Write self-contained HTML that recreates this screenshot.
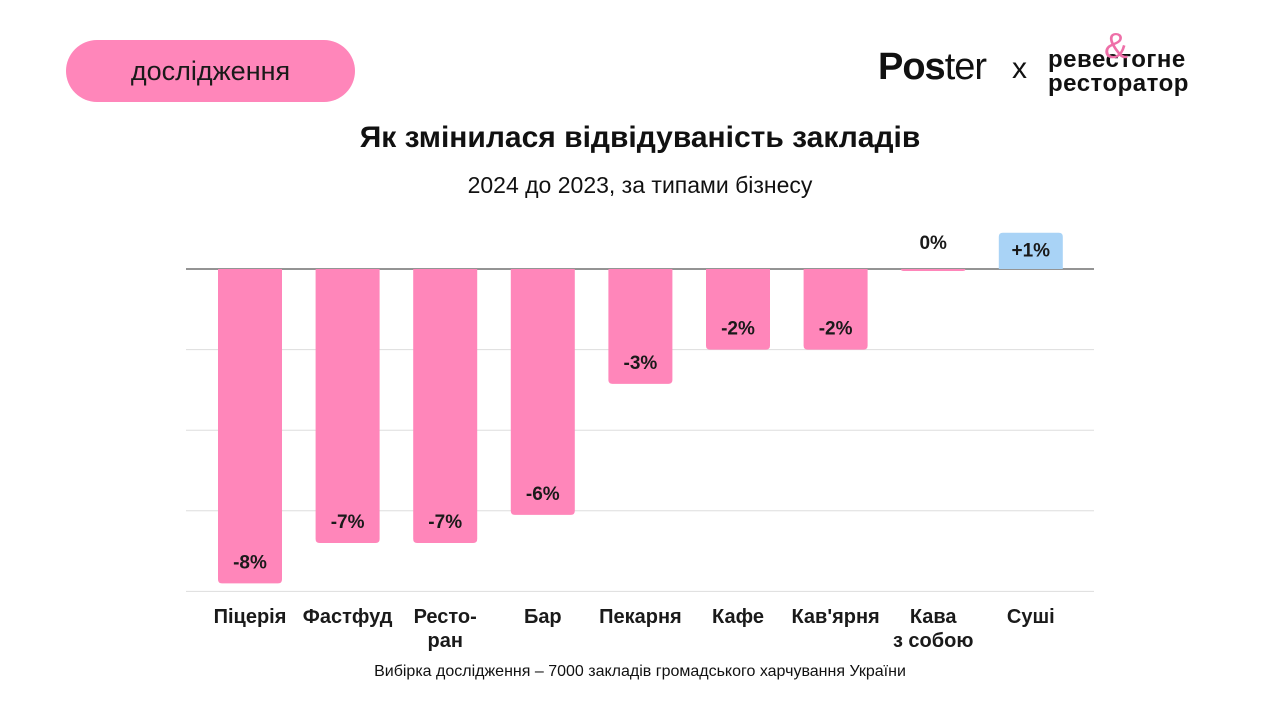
<!DOCTYPE html>
<html><head><meta charset="utf-8"><style>
body{margin:0;width:1280px;height:720px;background:#fff;font-family:"Liberation Sans","Noto Sans CJK SC",sans-serif;overflow:hidden;position:relative;color:#111}
.pill{position:absolute;left:66px;top:40px;width:289px;height:62px;border-radius:31px;background:#ff86ba;font-size:27px;line-height:62px;text-align:center;color:#1a1a1a}
.t{position:absolute;left:0;width:1280px;text-align:center}
</style></head><body>
<div class="pill">дослідження</div>
<div style="position:absolute;left:878px;top:46px;font-size:38px;font-weight:bold;letter-spacing:-1px">Pos<span style="font-weight:normal">ter</span></div>
<div style="position:absolute;left:1012px;top:52px;font-size:30px">x</div>
<div style="position:absolute;left:1048px;top:48px;font-size:24px;font-weight:bold;line-height:24px;letter-spacing:0.5px">ревестогне<br>ресторатор<span style="position:absolute;left:56px;top:-14px;color:#ee6fa8;font-size:36px;font-weight:normal">&amp;</span></div>
<div class="t" style="top:121px;font-size:30px;font-weight:bold">Як змінилася відвідуваність закладів</div>
<div class="t" style="top:172px;font-size:23px">2024 до 2023, за типами бізнесу</div>
<svg id="c" width="1280" height="720" style="position:absolute;left:0;top:0"></svg>
<div class="t" style="top:663px;font-size:16px">Вибірка дослідження – 7000 закладів громадського харчування України</div>
<script>
const categories=["Піцерія","Фастфуд","Ресто-|ран","Бар","Пекарня","Кафе","Кав'ярня","Кава|з собою","Суші"];
const values=[-7.8,-6.8,-6.8,-6.1,-2.85,-2.0,-2.0,0,0.9];
const valueLabels=["-8%","-7%","-7%","-6%","-3%","-2%","-2%","0%","+1%"];
const gridValues=[0,-2,-4,-6,-8];
const NS="http://www.w3.org/2000/svg",svg=document.getElementById('c');
const y0=269,pxPer=40.3;
const y=v=>y0-v*pxPer;
const x=i=>218+i*97.6;
const bw=64;
function mk(t,a){const e=document.createElementNS(NS,t);for(const k in a)e.setAttribute(k,a[k]);svg.appendChild(e);return e;}
gridValues.forEach(g=>{const l=mk('line',{x1:186,x2:1094,y1:y(g),y2:y(g),stroke:g===0?'#555':'#ddd','stroke-width':g===0?1.2:1});

});
values.forEach((v,i)=>{
 const x0=x(i),top=Math.min(y(v),y0),h=Math.max(Math.abs(y(v)-y0),2),r=4;
 let d;
 if(v<=0){d=`M${x0},${top}H${x0+bw}V${top+h-Math.min(r,h/2)}Q${x0+bw},${top+h} ${x0+bw-r},${top+h}H${x0+r}Q${x0},${top+h} ${x0},${top+h-Math.min(r,h/2)}Z`;}
 else{d=`M${x0},${y0}V${top+r}Q${x0},${top} ${x0+r},${top}H${x0+bw-r}Q${x0+bw},${top} ${x0+bw},${top+r}V${y0}Z`;}
 const b=mk('path',{d,fill:v>0?'#a9d3f6':'#ff86ba'});
 
 
 let ly;
 if(v<0&&h>30) ly=top+h-15; else if(v>0) ly=top+24; else ly=y0-20;
 const t=mk('text',{x:x0+bw/2,y:ly,'text-anchor':'middle','font-size':19,'font-weight':'bold',fill:'#1a1a1a','font-family':'Liberation Sans, sans-serif'});
 t.textContent=valueLabels[i];
 
 
 categories[i].split('|').forEach((s,j)=>{
  const c=mk('text',{x:x0+bw/2,y:623+j*24,'text-anchor':'middle','font-size':20,'font-weight':'bold',fill:'#1a1a1a','font-family':'Liberation Sans, sans-serif'});
  c.textContent=s;
  
  
 });
});
</script>
</body></html>
